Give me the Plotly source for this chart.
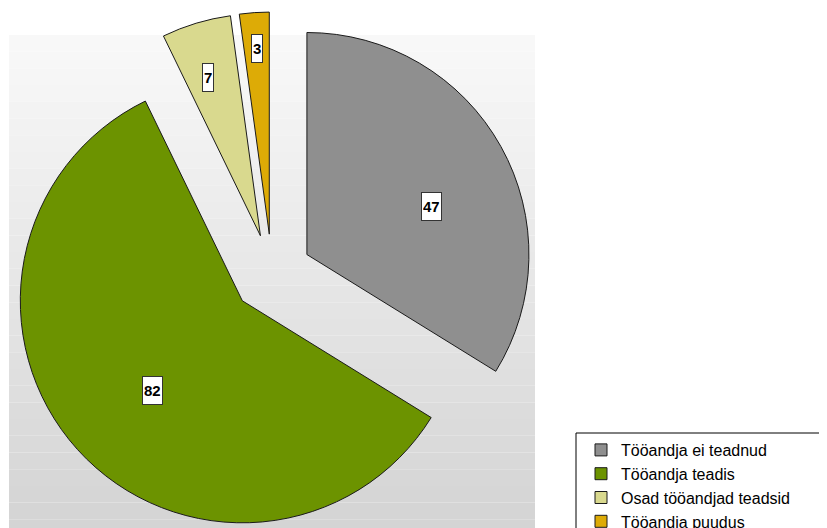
import math
import plotly.graph_objects as go

# ---- data ----
labels = ["Tööandja ei teadnud", "Tööandja teadis", "Osad tööandjad teadsid", "Tööandja puudus"]
values = [47, 82, 7, 3]
colors = ["#8f8f8f", "#6c9300", "#d9d98e", "#ddab06"]

# ---- layout constants (figure pixels; page adds an 8px body margin) ----
W, H = 827, 528
PULL = 0.18
DOM_X = [2 / W, 526 / W]
DOM_Y = [0, 524 / H]
FONT = "Arial, 'Liberation Sans', sans-serif"

fig = go.Figure()
fig.add_trace(go.Pie(
    labels=labels,
    values=values,
    sort=False,
    direction="clockwise",
    rotation=0,
    pull=[PULL] * len(values),
    marker=dict(colors=colors, line=dict(color="#1a1a1a", width=1)),
    textinfo="none",
    domain=dict(x=DOM_X, y=DOM_Y),
    hoverinfo="label+value",
))

# background panel gradient (decorative)
px0, px1, py0, py1 = 1, 527, 27, H
nb = 30
top_c, bot_c = 249, 211
for i in range(nb):
    t = (i + 0.5) / nb
    c = round(top_c + (bot_c - top_c) * t)
    y_top = py0 + (py1 - py0) * i / nb
    y_bot = py0 + (py1 - py0) * (i + 1) / nb
    fig.add_shape(type="rect", xref="paper", yref="paper",
                  x0=px0 / W, x1=px1 / W,
                  y0=1 - y_bot / H, y1=1 - y_top / H,
                  fillcolor=f"rgb({c},{c},{c})", line=dict(width=0), layer="below")

# legend frame running off the right/bottom edges, as in the reference crop
LEG_X, LEG_Y = 568, 425
fig.add_shape(type="rect", xref="paper", yref="paper",
              x0=LEG_X / W, x1=1.2, y0=-0.2, y1=1 - LEG_Y / H,
              line=dict(color="black", width=1), fillcolor="rgba(0,0,0,0)", layer="above")

# value labels in white boxes, positioned from the pie geometry
box_w = W * (DOM_X[1] - DOM_X[0])
box_h = H * (DOM_Y[1] - DOM_Y[0])
cx = W * (DOM_X[0] + DOM_X[1]) / 2
cy = H * (1 - DOM_Y[0]) - box_h / 2
r = min(box_w, box_h) / 2 / (1 + PULL)
label_frac = [0.60, 0.57, 0.75, 0.84]
label_shift = [8, -3, -1.5, 0]
total = sum(values)
cum = 0
for v, fr, sh in zip(values, label_frac, label_shift):
    mid = (cum + v / 2) / total * 360
    cum += v
    a = math.radians(mid)
    ax = cx + PULL * r * math.sin(a)
    ay = cy - PULL * r * math.cos(a)
    b = math.radians(mid + sh)
    lx = ax + fr * r * math.sin(b)
    ly = ay - fr * r * math.cos(b)
    fig.add_annotation(x=lx / W, y=1 - ly / H, xref="paper", yref="paper",
                       xanchor="center", yanchor="middle",
                       text=f"<b>{v}</b>", showarrow=False,
                       font=dict(family=FONT, size=15, color="black"),
                       bgcolor="white", bordercolor="#333333", borderwidth=1,
                       borderpad=1, height=25)

fig.update_layout(
    width=W, height=H,
    margin=dict(l=0, r=0, t=0, b=0, autoexpand=False),
    paper_bgcolor="white",
    plot_bgcolor="white",
    showlegend=True,
    legend=dict(
        x=LEG_X / W, y=1 - LEG_Y / H, xanchor="left", yanchor="top",
        bgcolor="rgba(0,0,0,0)", borderwidth=0,
        font=dict(family=FONT, size=16, color="black"),
        traceorder="normal", indentation=5,
    ),
)

fig.write_html("out.html")
